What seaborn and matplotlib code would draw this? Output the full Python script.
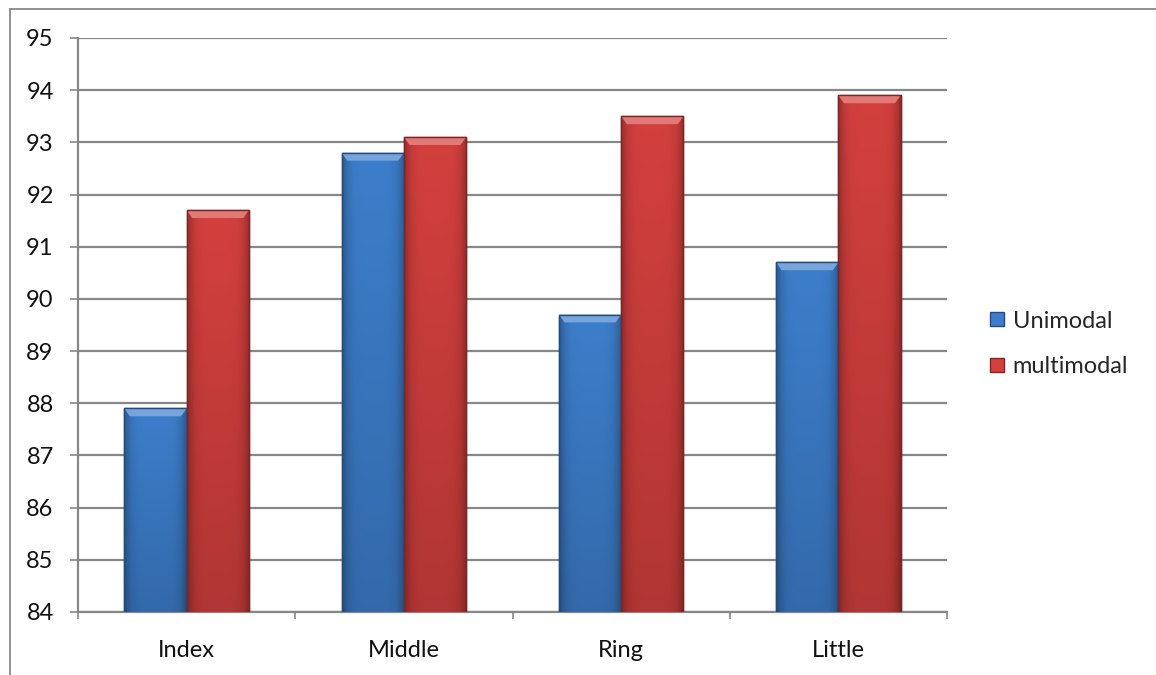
import matplotlib
matplotlib.use("Agg")
import matplotlib.pyplot as plt
import matplotlib.colors as mcolors
from matplotlib.lines import Line2D
from matplotlib.patches import Polygon
import numpy as np
import pandas as pd
import seaborn as sns

categories = ["Index", "Middle", "Ring", "Little"]
unimodal = [87.9, 92.8, 89.7, 90.7]
multimodal = [91.7, 93.1, 93.5, 93.9]
series_names = ["Unimodal", "multimodal"]
y_ticks = list(range(84, 96))

colors = {"Unimodal": "#3D7ECB", "multimodal": "#D3403E"}

df = pd.DataFrame({
    "category": categories * 2,
    "value": unimodal + multimodal,
    "series": [series_names[0]] * 4 + [series_names[1]] * 4,
})

sns.set_theme(style="white")
plt.rcParams["font.family"] = ["Lato", "DejaVu Sans"]

fig = plt.figure(figsize=(11.56, 6.75), dpi=100)
ax = fig.add_axes([78 / 1156, 1 - 612 / 675, (947 - 78) / 1156, (612 - 38) / 675])

sns.barplot(data=df, x="category", y="value", hue="series", order=categories,
            hue_order=series_names, palette=colors, width=0.573, gap=0,
            ax=ax, legend=False, saturation=1, zorder=3)

ymin, ymax = y_ticks[0], y_ticks[-1]
ax.set_ylim(ymin, ymax)
ax.set_xlim(-0.5, len(categories) - 0.5)
ax.set_yticks(y_ticks)
ax.set_yticklabels([str(t) for t in y_ticks])
ax.set_xlabel("")
ax.set_ylabel("")

grid_c = "#878787"
ax.yaxis.grid(True, color=grid_c, linewidth=1.6, zorder=0)
ax.set_axisbelow(True)
for s in ["top", "right"]:
    ax.spines[s].set_visible(False)
for s in ["left", "bottom"]:
    ax.spines[s].set_color(grid_c)
    ax.spines[s].set_linewidth(1.6)

ax.tick_params(axis="y", length=5.5, width=1.2, color=grid_c, pad=12, labelsize=17, labelcolor="#111111", left=True)
ax.tick_params(axis="x", which="major", length=0, pad=20, labelsize=17, labelcolor="#111111")
ax.set_xticks([i - 0.5 for i in range(len(categories) + 1)], minor=True)
ax.tick_params(axis="x", which="minor", length=5, width=1.2, color=grid_c, bottom=True)

# bevel / gradient shading derived from each bar patch
ncols = 64
xs = np.linspace(0, 1, ncols)
edge_shade = 1 - 0.3 * (np.abs(xs - 0.5) * 2) ** 5
for patch in list(ax.patches):
    x0, w, h = patch.get_x(), patch.get_width(), patch.get_height()
    y0 = max(patch.get_y(), ymin)
    top = patch.get_y() + h
    base = np.array(mcolors.to_rgb(patch.get_facecolor()))
    rows = 64
    ys = np.linspace(0, 1, rows)[:, None]
    vert = 0.84 + 0.16 * ys
    img = base[None, None, :] * (edge_shade[None, :, None] * vert[:, :, None])
    img = np.clip(img, 0, 1)
    im = ax.imshow(img, extent=(x0, x0 + w, y0, top), origin="lower",
                   aspect="auto", zorder=3.5, interpolation="bilinear")
    im.set_clip_path(patch)
    dark = np.clip(base * 0.6, 0, 1)
    patch.set_edgecolor(dark)
    patch.set_linewidth(1.0)
    bev_h = 0.15
    bev_w = w * 0.09
    light = np.clip(base + (1 - base) * 0.3, 0, 1)
    ax.add_patch(Polygon([(x0, top), (x0 + w, top), (x0 + w - bev_w, top - bev_h),
                          (x0 + bev_w, top - bev_h)], closed=True,
                         facecolor=light, edgecolor="none", zorder=4))
    ax.add_patch(Polygon([(x0, y0), (x0, top), (x0 + w, top), (x0 + w, y0)], closed=False,
                         fill=False, edgecolor=dark, linewidth=1.0, zorder=4.5))

ax.set_xticks(range(len(categories)))
ax.set_xticklabels(categories)
ax.set_xlim(-0.5, len(categories) - 0.5)
ax.set_ylim(ymin, ymax)

handles = [Line2D([0], [0], marker="s", linestyle="none", markersize=10,
                  markerfacecolor=colors[n],
                  markeredgecolor=np.clip(np.array(mcolors.to_rgb(colors[n])) * 0.6, 0, 1),
                  label=n) for n in series_names]
fig.legend(handles=handles, loc="center left", bbox_to_anchor=(976 / 1156, 1 - 344 / 675),
           frameon=False, fontsize=17, handlelength=0.8, handletextpad=0.25,
           labelspacing=1.05, borderpad=0)

fig.add_artist(Line2D([10 / 1156, 1.0], [1 - 8.5 / 675, 1 - 8.5 / 675], transform=fig.transFigure,
                      color="#8a8a8a", linewidth=1.3))
fig.add_artist(Line2D([10 / 1156, 10 / 1156], [0.0, 1 - 8.5 / 675], transform=fig.transFigure,
                      color="#8a8a8a", linewidth=1.3))

fig.savefig("out.png", dpi=100, facecolor="white")
